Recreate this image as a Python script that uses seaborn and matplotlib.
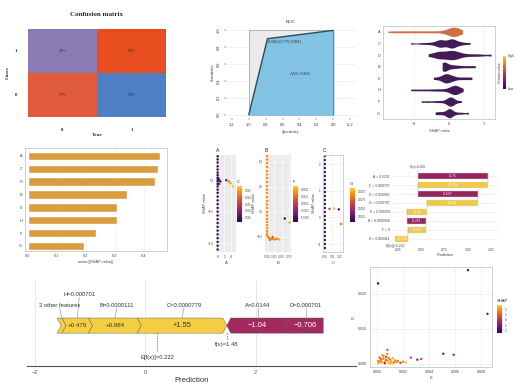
import numpy as np
import pandas as pd
import seaborn as sns
import matplotlib as mpl
import matplotlib.pyplot as plt
from matplotlib.colors import ListedColormap, Normalize

sns.set_theme(style="whitegrid")
plt.rcParams['font.family'] = ['Liberation Sans', 'DejaVu Sans']

# ---------------- data ----------------
cm_rows = ["1", "0"]
cm_cols = ["0", "1"]
cm_pct = [[23, 90], [77, 10]]
cm_colors = ["#8b7bb5", "#e84d1f", "#e05c3c", "#4d80c4"]

roc_spec = [1.0, 0.779, 0.0]
roc_sens = [0.0, 0.901, 1.0]

feats = ["A", "C", "D", "B", "E", "H", "F", "G"]
imp_vals = [0.454, 0.448, 0.437, 0.340, 0.308, 0.307, 0.233, 0.194]

vio_A = [-1.75, -1.6, -1.45, -1.3, -1.15, -1.0, -0.85, -0.7, -0.55, -0.4, -0.25, -0.1,
         0.0, 0.05, 0.08, 0.1, 0.1, 0.12, 0.12, 0.14, 0.15, 0.18, 0.2, 0.25, 0.3, 0.38]
vio_C = [-1.1, -0.8, -0.6, -0.45, -0.35, -0.3, -0.25, -0.25, -0.2, -0.15, -0.05, 0.0,
         0.05, 0.05, 0.1, 0.1, 0.15, 0.2, 0.3, 0.4, 0.6]
vio_D = [-0.6, -0.45, -0.35, -0.3, -0.25, -0.2, -0.1, -0.05, 0.0, 0.05, 0.1, 0.15,
         0.2, 0.25, 0.35, 0.5, 0.7, 0.9, 1.2]
vio_B = [-0.2, -0.18, -0.15, -0.15, -0.12, -0.1, -0.05, 0.05, 0.1, 0.2, 0.3, 0.45, 0.6, 0.75]
vio_E = [-0.45, -0.3, -0.2, -0.15, -0.1, -0.1, -0.05, 0.0, 0.05, 0.1, 0.2, 0.35, 0.5, 0.65]
vio_H = [-1.1, -0.9, -0.7, -0.5, -0.35, -0.2, -0.05, 0.05, 0.1, 0.12, 0.15, 0.15,
         0.18, 0.2, 0.25, 0.3, 0.4]
vio_F = [-0.8, -0.6, -0.4, -0.25, -0.1, -0.05, 0.0, 0.03, 0.05, 0.05, 0.08, 0.1, 0.2, 0.35]
vio_G = [-0.4, -0.3, -0.2, -0.1, -0.05, 0.0, 0.0, 0.02, 0.05, 0.1, 0.2, 0.35, 0.55]
vio_values = [vio_A, vio_C, vio_D, vio_B, vio_E, vio_H, vio_F, vio_G]

depA_col_y = [0.38, 0.33, 0.28, 0.22, 0.17, 0.12, 0.08, 0.04, 0.01, -0.02, -0.06, -0.1,
              -0.15, -0.2, -0.26, -0.32, -0.38, -0.44, -0.5, -0.56, -0.62, -0.68, -0.74,
              -0.8, -0.86, -0.92, -0.98, -1.04, -1.1]
depA_pts_x = [0.2, 0.5, 0.8, 0.4, 2.6, 3.4, 3.9, 4.6]
depA_pts_y = [0.03, 0.0, -0.02, -0.06, 0.0, -0.02, -0.05, -0.1]
depA_pts_c = [0.004, 0.005, 0.004, 0.006, 0.006, 0.021, 0.025, 0.027]

depB_col_y = [1.12, 1.05, 0.98, 0.9, 0.82, 0.75, 0.68, 0.6, 0.52, 0.45, 0.38, 0.3, 0.22,
              0.15, 0.08, 0.0, -0.07, -0.14, -0.2, -0.26, -0.32, -0.38, -0.43, -0.47]
depB_pts_x = [0.004, 0.008, 0.012, 0.018, 0.024, 0.03, 0.036, 0.042, 0.01, 0.02, 0.061, 0.077]
depB_pts_y = [-0.5, -0.52, -0.54, -0.53, -0.55, -0.54, -0.53, -0.55, -0.56, -0.5, -0.13, -0.21]
depB_pts_c = [0.004, 0.003, 0.004, 0.002, 0.004, 0.003, 0.004, 0.005, 0.003, 0.002, -0.007, 0.005]

depC_col_y = [2.3, 2.15, 2.0, 1.85, 1.7, 1.55, 1.4, 1.25, 1.1, 0.95, 0.8, 0.65, 0.5, 0.35,
              0.2, 0.05, -0.1, -0.25, -0.4, -0.55, -0.7, -0.85, -1.0, -1.15]
depC_pts_x = [0.0065, 0.0125, 0.0185, 0.0215]
depC_pts_y = [0.32, 0.33, 0.3, -0.25]
depC_pts_c = [0.006, 0.0105, 0.0015, 0.0085]

wf_labels = ["A = 0.0201", "C = 0.000707", "D = 0.000995", "G = 0.000707",
             "E = 0.000338", "B = 0.0000466", "F = 0", "H = 0.000461"]
wf_shap = [-0.75, 0.746, -0.637, 0.544, 0.22, -0.211, 0.195, 0.136]
wf_base = 0.222

force_pos_labels = ["3 other features", "H=0.000701", "B=0.0000111", "C=0.0000779"]
force_pos_vals = [0.0887, 0.479, 0.884, 1.55]
force_neg_labels = ["A=0.0144", "D=0.000701"]
force_neg_vals = [-1.04, -0.706]
force_base = 0.222
force_fx = 1.48

sc_out_x = [0.00008, 0.0070, 0.0085, 0.0051, 0.0059, 0.0026, 0.0031, 0.0034, 0.0008]
sc_out_y = [0.0230, 0.0268, 0.0143, 0.0029, 0.0026, 0.0018, 0.0012, 0.0014, 0.0040]
sc_out_c = [-2.2, -1.8, -1.5, -1.2, -0.5, 0.5, -0.8, 0.3, 1.0]
sc_cl_x = [0.0001, 0.0002, 0.0003, 0.0004, 0.0005, 0.0006, 0.0007, 0.0008, 0.0009, 0.0010,
           0.0011, 0.0012, 0.0013, 0.0014, 0.0015, 0.0016, 0.0018, 0.0020, 0.0022, 0.0002,
           0.0004, 0.0006, 0.0008, 0.0010, 0.0003, 0.0005, 0.0007, 0.0012, 0.0001, 0.0009]
sc_cl_y = [0.0002, 0.0005, 0.0010, 0.0004, 0.0015, 0.0007, 0.0020, 0.0009, 0.0003, 0.0012,
           0.0006, 0.0016, 0.0004, 0.0010, 0.0005, 0.0008, 0.0003, 0.0006, 0.0004, 0.0018,
           0.0025, 0.0002, 0.0028, 0.0001, 0.0013, 0.0022, 0.0011, 0.0002, 0.0008, 0.0017]
sc_cl_c = [2.5, 2.0, 1.5, 2.2, 1.0, 2.4, 0.5, 1.8, 2.6, 1.2, 2.0, 2.3, 0.8, 1.6, 2.1,
           1.4, 0.2, 1.9, 2.5, 1.1, 2.2, -0.3, 1.7, 2.4, 0.9, 2.0, 1.3, 2.6, 1.5, 1.8]

# ---------------- figure ----------------
W, H = 520, 389
fig = plt.figure(figsize=(5.2, 3.89), dpi=100)
inferno = ListedColormap(plt.cm.inferno(np.linspace(0.15, 0.88, 256)))
TXT = "#444444"
SERIF = ["Liberation Serif", "DejaVu Serif"]


def box(x0, y0, x1, y1):
    return fig.add_axes([x0 / W, 1 - y1 / H, (x1 - x0) / W, (y1 - y0) / H])


def gg(ax, bg="white", border=True, fs=2.8):
    ax.set_facecolor(bg)
    ax.grid(True, color="#e8e8e8" if bg == "white" else "white", lw=0.4)
    for s in ax.spines.values():
        s.set_visible(border)
        s.set_color("#c8c8c8")
        s.set_linewidth(0.6)
    ax.tick_params(labelsize=fs, length=1, width=0.3, pad=1, colors=TXT)


def cbar(x0, y0, x1, y1, norm, ticks, fmt, title, fs=2.2):
    cax = box(x0, y0, x1, y1)
    cb = fig.colorbar(mpl.cm.ScalarMappable(norm=norm, cmap=inferno), cax=cax, ticks=ticks, format=fmt)
    cb.outline.set_visible(False)
    cax.tick_params(labelsize=fs, length=1, width=0.3, pad=0.8, colors=TXT)
    cax.set_title(title, fontsize=3, loc="left", pad=2, color="#222222")
    return cax


# confusion matrix
ax = box(28, 29, 166, 117)
idx = pd.DataFrame([[0, 1], [2, 3]], index=cm_rows, columns=cm_cols)
annot = np.array([[f"{v}%" for v in row] for row in cm_pct])
sns.heatmap(idx, cmap=ListedColormap(cm_colors), vmin=0, vmax=3, cbar=False, annot=annot, fmt="",
            annot_kws=dict(size=3, color="#333333", family=SERIF), ax=ax)
ax.tick_params(length=0, pad=8, labelsize=3.5)
for t in ax.get_xticklabels() + ax.get_yticklabels():
    t.set_family(SERIF)
    t.set_fontweight("bold")
ax.set_yticklabels(cm_rows, rotation=0)
ax.set_xlabel("True", fontsize=3.8, family=SERIF, fontweight="bold", labelpad=1)
ax.set_ylabel("Cases", fontsize=3.8, family=SERIF, fontweight="bold", labelpad=3)
ax.set_title("Confusion matrix", fontsize=5, family=SERIF, fontweight="bold", pad=9)

# ROC
ax = box(226, 27, 356, 118)
ax.set_facecolor("white")
ax.grid(True, axis="y", color="#e8e8e8", lw=0.4)
ax.grid(False, axis="x")
for s in ax.spines.values():
    s.set_visible(False)
ax.fill_between([1.0, 0.0], [1.0, 1.0], 0, color="#ebebeb", ec="#9a9a9a", lw=0.5)
ax.fill_between(roc_spec, roc_sens, 0, color="#82c2e2")
sns.lineplot(x=roc_spec, y=roc_sens, sort=False, color="#2f4a58", lw=1.0, ax=ax)
ax.plot([0, 0], [0, 1], color="#5a6a72", lw=0.5)
ax.set_xlim(1.27, -0.27)
ax.set_ylim(-0.04, 1.04)
ax.set_xticks([1.2, 1.0, 0.8, 0.6, 0.4, 0.2, 0.0, -0.2])
ax.set_yticks([0.0, 0.2, 0.4, 0.6, 0.8, 1.0])
ax.set_xticklabels(["1.2", "1.0", "0.8", "0.6", "0.4", "0.2", "0.0", "-0.2"])
ax.set_yticklabels(["0.0", "0.2", "0.4", "0.6", "0.8", "1.0"], rotation=90, va="center")
ax.tick_params(labelsize=2.8, length=1.5, width=0.3, pad=2, colors="#333333",
               left=True, bottom=True)
ax.set_xlabel("Specificity", fontsize=3, family=SERIF, labelpad=2)
ax.set_ylabel("Sensitivity", fontsize=3, family=SERIF, labelpad=2)
ax.set_title("ROC", fontsize=3.5, family=SERIF, pad=3)
ax.text(roc_spec[1] - 0.01, roc_sens[1] - 0.01, f"0.500 ({roc_spec[1]}, {roc_sens[1]})",
        fontsize=3, family=SERIF, ha="left", va="top", color="#222222")
ax.text(0.4, 0.48, "AUC: 0.835", fontsize=3, family=SERIF, ha="center", va="center", color="#222222")

# SHAP violin summary
ax = box(383, 26, 495, 119)
gg(ax)
vio_df = pd.DataFrame({"feature": np.repeat(feats, [len(v) for v in vio_values]),
                       "shap": np.concatenate(vio_values)})
vio_pal = {f: ("#e6662b" if f == "A" else "#45135f") for f in feats}
sns.violinplot(data=vio_df, x="shap", y="feature", hue="feature", palette=vio_pal,
               density_norm="width", cut=0, bw_adjust=0.45, inner=None, linewidth=0,
               width=0.8, legend=False, ax=ax)
ax.set_xlim(-1.89, 1.31)
ax.set_xticks([-1, 0, 1])
ax.set_xlabel("SHAP value", fontsize=2.8, color=TXT, labelpad=2)
ax.set_ylabel("")
cax = cbar(503, 56, 506, 89, Normalize(0, 1), [], None, "")
cax.text(1.6, 1.0, "High", transform=cax.transAxes, fontsize=2.4, va="center", color=TXT)
cax.text(1.6, 0.0, "Low", transform=cax.transAxes, fontsize=2.4, va="center", color=TXT)
cax.text(-0.9, 0.5, "Feature value", transform=cax.transAxes, fontsize=2.4, rotation=90,
         va="center", ha="center", color=TXT)

# mean |SHAP| bars
ax = box(25, 148, 167, 251)
gg(ax)
sns.barplot(x=imp_vals, y=feats, orient="h", color="#f4a224", width=0.65, ax=ax)
ax.set_xlim(-0.01, 0.479)
ax.set_ylim(7.4, -0.62)
ax.set_xticks([0.0, 0.1, 0.2, 0.3, 0.4])
ax.set_xlabel("mean(|SHAP value|)", fontsize=2.8, color=TXT, labelpad=1.5)

# dependence plots
def dep(x0, x1, bg, col_y, col_x, col_c, px, py, pc, norm, title, xlim, ylim, xt, yt, xfmt, xfs, ylab_x):
    ax = box(x0, 155, x1, 252)
    gg(ax, bg=bg, border=(bg == "white"), fs=2.2)
    xs = [col_x] * len(col_y) + px
    ys = col_y + py
    cs = [col_c] * len(col_y) + pc
    sns.scatterplot(x=xs, y=ys, hue=cs, palette=inferno, hue_norm=norm, s=3, linewidth=0,
                    legend=False, ax=ax)
    ax.set_xlim(*xlim)
    ax.set_ylim(*ylim)
    ax.set_xticks(xt)
    ax.set_xticklabels([xfmt.format(v) for v in xt], fontsize=xfs)
    ax.set_yticks(yt)
    ax.tick_params(axis="y", pad=0.6)
    ax.set_xlabel(title, fontsize=3, color=TXT, labelpad=1.5)
    ax.set_ylabel("SHAP value", fontsize=2.7, color=TXT)
    ax.yaxis.set_label_coords((ylab_x - x0) / (x1 - x0), 0.5)
    ax.set_title(title, fontsize=3.6, loc="left", pad=2, color="#222222")
    return ax


nA = Normalize(0.002, 0.028)
dep(216, 236, "#ebebeb", depA_col_y, 0.0, 0.003, depA_pts_x, depA_pts_y, depA_pts_c, nA, "A",
    (-0.5, 5.5), (-1.14, 0.4), [0, 2, 4], [0.0, -0.5, -1.0], "{:g}", 2.4, 207)
cbar(237, 186, 242, 222, nA, [0.005, 0.010, 0.015, 0.020, 0.025], "%.3f", "C", fs=1.9)

nB = Normalize(-0.0065, 0.0062)
dep(265, 291, "#ebebeb", depB_col_y, 0.001, 0.004, depB_pts_x, depB_pts_y, depB_pts_c, nB, "B",
    (-0.006, 0.082), (-0.8, 1.14), [0.0, 0.025, 0.05, 0.075], [1.0, 0.5, 0.0, -0.5], "{:.3f}", 1.8, 256)
cbar(293, 186, 298, 222, nB, [0.005, 0.0025, 0.0, -0.0025, -0.005], "%.4f", "F", fs=1.9)

nC = Normalize(0.001, 0.011)
dep(323, 343, "white", depC_col_y, 0.0003, 0.0012, depC_pts_x, depC_pts_y, depC_pts_c, nC, "C",
    (-0.002, 0.024), (-1.3, 2.34), [0.0, 0.01, 0.02], [2, 1, 0, -1], "{:.2f}", 2.1, 316)
cbar(350, 188, 355, 222, nC, [0.0025, 0.005, 0.0075, 0.01], "%.4f", "G", fs=1.9)

# waterfall
ax = box(392, 168, 499, 246)
ax.set_facecolor("white")
ax.grid(True, axis="y", color="#e8e8e8", lw=0.4)
ax.grid(False, axis="x")
for s in ax.spines.values():
    s.set_visible(False)
starts = [wf_base + sum(wf_shap[i + 1:]) for i in range(len(wf_shap))]
fx_wf = wf_base + sum(wf_shap)
ax.barh(range(len(wf_shap)), wf_shap, left=starts, height=0.72,
        color=["#f0c94a" if v > 0 else "#96255e" for v in wf_shap],
        edgecolor="#d9d9d9", linewidth=0.3)
for i, (st, v) in enumerate(zip(starts, wf_shap)):
    ax.text(st + v / 2, i, f"{v:+.3g}", fontsize=2.4, color="white", ha="center", va="center")
    if i > 0:
        ax.plot([st + v, st + v], [i - 1.36, i - 0.36], color="#999999", lw=0.3)
ax.set_yticks(range(len(wf_shap)))
ax.set_yticklabels(wf_labels)
ax.set_ylim(7.8, -0.9)
ax.set_xlim(0.185, 1.337)
ax.set_xticks([0.25, 0.5, 0.75, 1.0, 1.25])
ax.set_xticklabels(["0.25", "0.50", "0.75", "1.00", "1.25"])
ax.tick_params(labelsize=2.4, length=0, pad=1.5, colors=TXT)
ax.set_xlabel("Prediction", fontsize=2.8, color=TXT, labelpad=1)
ax.text(fx_wf, -0.75, f"f(x)={fx_wf:.3f}", fontsize=2.4, ha="center", va="bottom", color=TXT)
ax.plot([fx_wf, fx_wf], [-0.7, -0.36], color="#999999", lw=0.3)
ax.text(wf_base, 7.55, f"E[f(x)]={wf_base:.3f}", fontsize=2.4, ha="center", va="top", color=TXT)

# force plot
ax = box(27, 280, 356, 366)
ax.set_facecolor("white")
ax.grid(True, axis="x", color="#e3e3e3", lw=0.6)
ax.grid(False, axis="y")
for k, s in ax.spines.items():
    s.set_visible(k == "bottom")
ax.spines["bottom"].set_color("#555555")
ax.spines["bottom"].set_linewidth(0.8)
ax.set_xlim(-2.14, 3.82)
ax.set_ylim(0, 1)
ax.set_yticks([])
ax.set_xticks([-2, 0, 2])
ax.tick_params(axis="x", labelsize=4, length=2, width=0.5, pad=1, colors="#555555")
ax.set_xlabel("Prediction", fontsize=5.5, color="#333333", labelpad=1)
t, lo, mid, hi = 0.073, 0.382, 0.47, 0.558
a = force_fx - sum(force_pos_vals)
for i, (lab, v) in enumerate(zip(force_pos_labels, force_pos_vals)):
    b = a + v
    ax.fill([a - t, b - t, b, b - t, a - t, a], [lo, lo, mid, hi, hi, mid],
            facecolor="#f4cf44", edgecolor="#555555", lw=0.3)
    c = (a + b) / 2
    if i > 0:
        ax.text(c - t / 2, mid, f"+{v:.3g}", fontsize=4.4 if v < 1 else 5.4,
                ha="center", va="center", color="#333333")
    ly = 0.8 if i == 1 else 0.68
    lx = c - 0.07 if i == 0 else c
    ax.text(lx, ly, lab, fontsize=4.2, ha="center", va="bottom", color="#333333")
    ax.plot([c - t / 2, lx], [hi, ly], color="#888888", lw=0.4)
    a = b
a = force_fx
for i, (lab, v) in enumerate(zip(force_neg_labels, force_neg_vals)):
    b = a - v
    last = i == len(force_neg_vals) - 1
    rx = b if last else b + t
    ax.fill([a, a + t, rx, b, rx, a + t], [mid, lo, lo, mid, hi, hi],
            facecolor="#a22a5e", edgecolor="#555555", lw=0.3)
    c = (a + b) / 2 + t / 2
    ax.text(c, mid, f"{v:.3g}".replace("-", "\u2212"), fontsize=5.4, ha="center", va="center",
            color="white")
    ax.text(c, 0.68, lab, fontsize=4.2, ha="center", va="bottom", color="#333333")
    ax.plot([c, c], [hi, 0.68], color="#888888", lw=0.4)
    a = b
ax.plot([force_base, force_base], [lo, 0.17], color="#555555", lw=0.5, ls=(0, (2, 1.5)))
ax.text(force_base, 0.1, f"E[f(x)]={force_base}", fontsize=4.2, ha="center", va="center", color="#333333")
ax.plot([force_fx, force_fx], [lo, 0.3], color="#555555", lw=0.5, ls=(0, (2, 1.5)))
ax.text(force_fx, 0.245, f"f(x)={force_fx}", fontsize=4.2, ha="center", va="center", color="#333333")

# feature scatter
ax = box(370, 267, 492, 367)
gg(ax, fs=2.6)
sns.scatterplot(x=sc_out_x + sc_cl_x, y=sc_out_y + sc_cl_y, hue=sc_out_c + sc_cl_c,
                palette=inferno, hue_norm=(-2.5, 2.8), s=3, linewidth=0, legend=False, ax=ax)
ax.set_xlim(-0.00054, 0.00885)
ax.set_ylim(-0.0009, 0.0277)
ax.set_xticks([0.0, 0.002, 0.004, 0.006, 0.008])
ax.set_xticklabels(["0.000", "0.002", "0.004", "0.006", "0.008"])
ax.set_yticks([0.0, 0.01, 0.02])
ax.set_yticklabels(["0.000", "0.010", "0.020"])
ax.set_xlabel("E", fontsize=3, color=TXT, labelpad=1.5)
ax.set_ylabel("D", fontsize=3, color=TXT, labelpad=2)
cbar(497, 305, 502, 333, Normalize(-2.5, 2.8), [2, 1, 0, -1, -2], "%d", "SHAP")

fig.savefig("out.png", dpi=100, facecolor="white")
